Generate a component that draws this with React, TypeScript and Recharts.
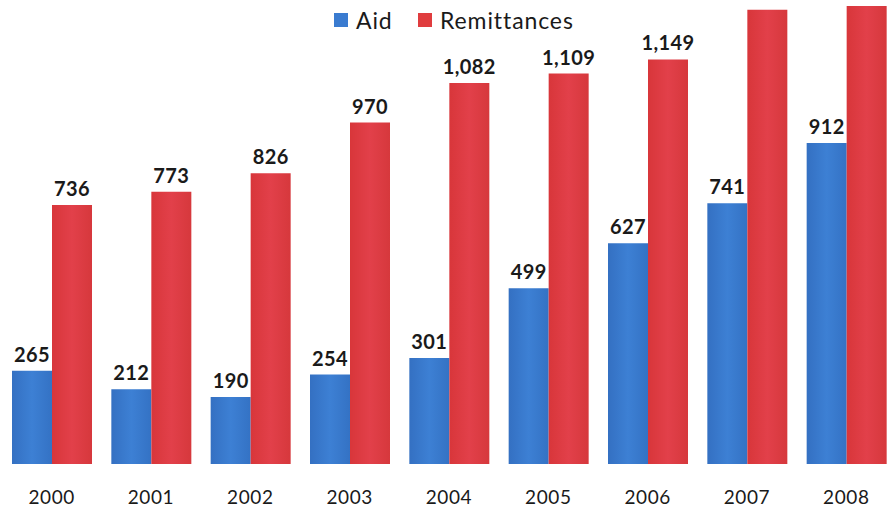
import { Bar, BarChart, LabelList, XAxis, YAxis } from "recharts";

const years = ["2000", "2001", "2002", "2003", "2004", "2005", "2006", "2007", "2008"];
const aid = [265, 212, 190, 254, 301, 499, 627, 741, 912];
const remittances = [736, 773, 826, 970, 1082, 1109, 1149, 1290, 1301];

const data = years.map((year, i) => ({ year, aid: aid[i], remittances: remittances[i] }));

const FONT = "Lato, 'Open Sans', sans-serif";

function ValueLabel(props: any) {
  const { x, y, width, value } = props;
  // labels of bars that run off the top are cut away in the original
  if (y < 40) return null;
  return (
    <text
      x={x + width / 2}
      y={y - 9}
      textAnchor="middle"
      fontFamily={FONT}
      fontWeight={700}
      fontSize={20}
      letterSpacing={0.4}
      fill="#1a1a1a"
    >
      {Number(value).toLocaleString("en-US")}
    </text>
  );
}

const legendText = { position: "absolute" as const, top: 7, fontFamily: FONT, fontSize: 23, letterSpacing: 0.9, color: "#1a1a1a", lineHeight: "26px" };
const legendBox = { position: "absolute" as const, top: 13, width: 14, height: 14 };

export default function App() {
  return (
    <div style={{ position: "absolute", left: 0, top: 0, width: 894, height: 514, background: "#fff", overflow: "hidden" }}>
      <BarChart
        width={896}
        height={514}
        data={data}
        margin={{ top: 0, right: 0, bottom: 0, left: 2 }}
        barGap={0}
        barSize={40}
      >
        <defs>
          <linearGradient id="gAid" x1="0" y1="0" x2="1" y2="0">
            <stop offset="0%" stopColor="#3470c2" />
            <stop offset="50%" stopColor="#3d80d4" />
            <stop offset="100%" stopColor="#3472c4" />
          </linearGradient>
          <linearGradient id="gRem" x1="0" y1="0" x2="1" y2="0">
            <stop offset="0%" stopColor="#d8363a" />
            <stop offset="50%" stopColor="#e2404a" />
            <stop offset="100%" stopColor="#d6383c" />
          </linearGradient>
        </defs>
        <XAxis
          dataKey="year"
          axisLine={false}
          tickLine={false}
          tickSize={0}
          tickMargin={27}
          height={50}
          interval={0}
          tick={{ fontFamily: FONT, fontSize: 19, letterSpacing: 0.6, fill: "#1a1a1a" }}
        />
        <YAxis hide domain={[0, 1318]} />
        <Bar dataKey="aid" fill="url(#gAid)" isAnimationActive={false}>
          <LabelList dataKey="aid" content={ValueLabel} />
        </Bar>
        <Bar dataKey="remittances" fill="url(#gRem)" isAnimationActive={false}>
          <LabelList dataKey="remittances" content={ValueLabel} />
        </Bar>
      </BarChart>
      <span style={{ ...legendBox, left: 334, background: "#3a7bd0" }} />
      <span style={{ ...legendText, left: 356 }}>Aid</span>
      <span style={{ ...legendBox, left: 418, background: "#e03c3e" }} />
      <span style={{ ...legendText, left: 440 }}>Remittances</span>
    </div>
  );
}
